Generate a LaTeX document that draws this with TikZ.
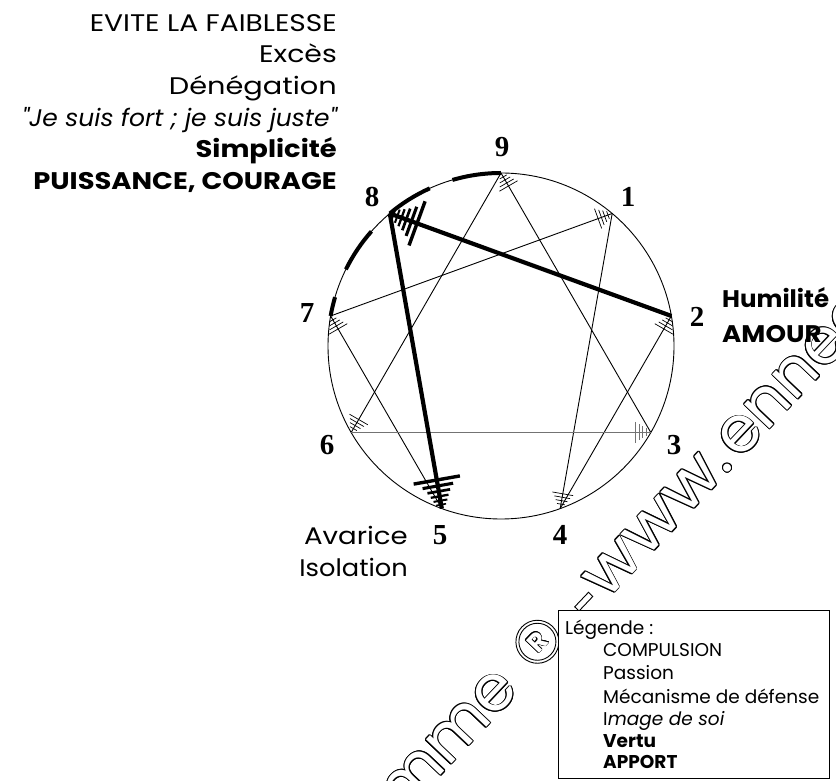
\documentclass[tikz,border=0pt]{standalone}
\usepackage{graphicx}
\usepackage{fontspec}
\setmainfont{Poppins}
\newfontfamily\itwide{Poppins}
\newfontfamily\numfont{Liberation Serif}
\usetikzlibrary{calc}
\newcommand\hs[2]{\scalebox{#1}[1]{#2}}
\newcommand\tickthin[3][black]{%
  \foreach \dd/\hh in {15/10.5,11.5/8,8/6,4.5/4}{%
    \path ($(#3)!\dd pt!(#2)$) coordinate (tk);
    \draw[line width=0.7pt,draw=#1] ($(tk)!\hh pt!90:(#3)$) -- ($(tk)!\hh pt!-90:(#3)$);
  }}
\newcommand\tickthick[2]{%
  \foreach \dd/\hh/\ww in {29/23.5/3.4,23/15.5/3.1,17.5/11.5/2.7,12.5/9/2.3,8/7/2,4/5/1.6}{%
    \path ($(#2)!\dd pt!(#1)$) coordinate (tk);
    \draw[line width=\ww pt] ($(tk)!\hh pt!90:(#2)$) -- ($(tk)!\hh pt!-90:(#2)$);
  }}
% outlined watermark text: [extra options], name, position, anchor, text
\newcommand\wmtext[5][]{%
  \foreach \a in {0,30,...,330}{\node[wm,#1,text=black,anchor=#4] (#2o\a) at ([shift={(\a:0.9)}]#3) {#5};}
  \node[wm,#1,text=white,anchor=#4] (#2) at (#3) {#5};}
\begin{document}
\begin{tikzpicture}[x=1pt,y=1pt,
  lab/.style={font=\fontsize{24}{24}\selectfont, inner sep=0},
  leg/.style={font=\fontsize{18.5}{18.5}\selectfont, inner sep=0, anchor=base west},
  num/.style={font=\numfont\bfseries\fontsize{29}{29}\selectfont, inner sep=0},
  thinl/.style={line width=0.9pt},
  thickl/.style={line width=4.2pt},
  grayl/.style={line width=1.1pt, draw=black!55},
  dasharc/.style={line width=4pt},
  wm/.style={font=\fontsize{64}{64}\selectfont, inner sep=0, transform shape},
  wmline/.style={line width=0.9pt, draw=black}]
\useasboundingbox (0,0) rectangle (836,780);
\fill[white] (0,0) rectangle (836,780);
% watermark (outlined text)
\begin{scope}
\clip (0,0) rectangle (836,780);
\begin{scope}[shift={(740,343)}, rotate=46.5]
\wmtext{wmA}{-335,-16}{base east}{Enneagramme}
\wmtext[xscale=1.1]{wmW}{-38,-16}{base east}{www}
\wmtext{wmD}{-31,-16}{base}{.}
\wmtext{wmE}{-18,-16}{base west}{enneagramme.com}
\draw[wmline, fill=white] (-288,6) circle (21.5);
\draw[wmline] (-288,6) circle (18.5);
\begin{scope}[shift={(-288,6)}]
\foreach \a in {0,30,...,330}{\node[text=black, inner sep=0, transform shape, font=\bfseries\fontsize{26}{26}\selectfont] (wmRo\a) at (\a:0.8) {R};}
\node[text=white, inner sep=0, transform shape, font=\bfseries\fontsize{26}{26}\selectfont] (wmR) at (0,0) {R};
\end{scope}
\draw[wmline, fill=white] (-237,-3) rectangle (-217,3);
\end{scope}
\end{scope}
% circle
\coordinate (c) at (501,434);
\draw[thinl] (c) circle (173);
\foreach \i in {1,...,9} \coordinate (p\i) at ($(c)+({90-40*\i}:173)$);
% dashed thick arc between 7 and 9
\foreach \s/\e in {170/163.6,153.7/138.5,130/114.3,106.3/90}
  \draw[dasharc] ($(c)+(\s:173)$) arc (\s:\e:173);
% lines
\draw[thinl] (p7) -- (p1);
\draw[thinl] (p1) -- (p4);
\draw[thinl] (p4) -- (p2);
\draw[thinl] (p5) -- (p7);
\draw[thinl] (p9) -- (p6);
\draw[thinl] (p3) -- (p9);
\draw[grayl] (p6) -- (p3);
\draw[thickl] (p2) -- (p8);
\draw[thickl] (p8) -- (p5);
\tickthin{p7}{p1}
\tickthin{p1}{p4}
\tickthin{p4}{p2}
\tickthin{p5}{p7}
\tickthin{p9}{p6}
\tickthin{p3}{p9}
\tickthin[black!55]{p6}{p3}
\tickthick{p2}{p8}
\tickthick{p8}{p5}
% numbers
\node[num] (n9) at (502,633) {9};
\node[num] (n8) at (372,583) {8};
\node[num] (n1) at (628,583) {1};
\node[num] (n2) at (697,463) {2};
\node[num] (n3) at (674,335) {3};
\node[num] (n4) at (560,245) {4};
\node[num] (n5) at (440,245) {5};
\node[num] (n6) at (327,335) {6};
\node[num] (n7) at (307,467) {7};
% type 8 texts
\node[lab, anchor=base east] (t1) at (337,748) {\hs{1.17}{EVITE LA FAIBLESSE}};
\node[lab, anchor=base east] (t2) at (337,717) {\hs{1.18}{Excès}};
\node[lab, anchor=base east] (t3) at (337,685) {\hs{1.2}{Dénégation}};
\node[lab, anchor=base east] (t4) at (337,653) {\hs{1.04}{\itwide\itshape "Je suis fort ; je suis juste"}};
\node[lab, anchor=base east] (t5) at (337,622) {\hs{1.14}{\bfseries Simplicité}};
\node[lab, anchor=base east] (t6) at (337,590) {\hs{1.14}{\bfseries PUISSANCE, COURAGE}};
% type 2 texts
\node[lab, anchor=base west] (h1) at (722,472) {\hs{1.02}{\bfseries Humilité}};
\node[lab, anchor=base west] (h2) at (722,437) {\hs{1.09}{\bfseries AMOUR}};
% type 5 texts
\node[lab, anchor=base east] (a1) at (408,235) {\hs{1.15}{Avarice}};
\node[lab, anchor=base east] (a2) at (408,203) {\hs{1.07}{Isolation}};
% legend
\draw[line width=0.9pt, fill=white] (558,170) rectangle (829,2);
\node[leg] (l0) at (565,145) {Légende :};
\node[leg] (l1) at (603,123) {COMPULSION};
\node[leg] (l2) at (603,100) {Passion};
\node[leg] (l3) at (603,77) {Mécanisme de défense};
\node[leg] (l4) at (603,55) {I\textit{mage de soi}};
\node[leg] (l5) at (603,33) {\bfseries Vertu};
\node[leg] (l6) at (603,12) {\bfseries APPORT};
\end{tikzpicture}
\end{document}
